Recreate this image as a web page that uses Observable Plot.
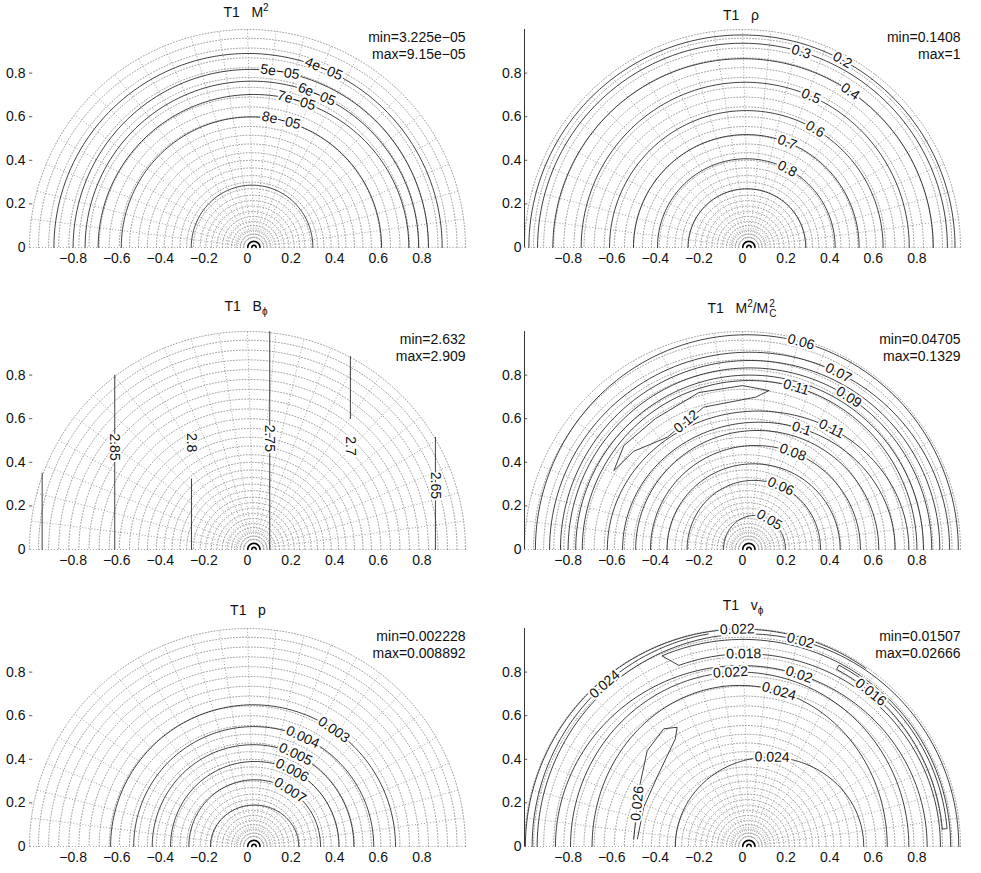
<!DOCTYPE html>
<html><head><meta charset="utf-8">
<script src="https://cdn.jsdelivr.net/npm/d3@7"></script>
<script src="https://cdn.jsdelivr.net/npm/@observablehq/plot@0.6"></script>
<style>
body{margin:0;background:#fff;}
#fig{position:relative;width:981px;height:873px;background:#fff;font-family:"Liberation Sans",Arial,Helvetica,sans-serif;color:#111;overflow:hidden;}
.panel{position:absolute;}
.title{position:absolute;font-size:14px;height:16px;line-height:16px;white-space:nowrap;transform:translate(-50%,-50%);color:#111;}
.title sup,.title sub{font-size:10px;line-height:0;color:#111;}
.stack{display:inline-block;vertical-align:middle;font-size:10px;line-height:10px;margin-left:1px;}
</style></head><body><div id="fig"></div>
<script>
// ---------- axes ----------
const xTicks = [-0.8,-0.6,-0.4,-0.2,0,0.2,0.4,0.6,0.8];
const yTicks = [0,0.2,0.4,0.6,0.8];
// ---------- mesh ----------
const gridRadii = [0.045,0.062,0.08,0.10,0.12,0.142,0.165,0.19,0.215,0.24,0.27,0.30,0.33,0.365,0.40,0.435,0.475,0.515,0.555,0.60,0.645,0.69,0.735,0.78,0.825,0.87,0.915,0.96,1.0];
const gridAngles = [0,7.5,15,22.5,30,37.5,45,52.5,60,67.5,75,82.5,90,97.5,105,112.5,120,127.5,135,142.5,150,157.5,165,172.5,180];
const innerRadii = [0.01,0.028];

// ---------- panel 1 : M^2 ----------
const p1Levels = ["4e−05","5e−05","6e−05","7e−05","8e−05","9e−05"];
const p1Left  = [-0.888,-0.80,-0.745,-0.685,-0.579,-0.258];
const p1Top   = [0.89,0.817,0.763,0.702,0.599,0.286];
const p1Right = [0.893,0.83,0.785,0.74,0.615,0.30];
const p1LabText = ["4e−05","5e−05","6e−05","7e−05","8e−05"];
const p1LabX = [0.343,0.151,0.312,0.22,0.151];
const p1LabY = [0.804,0.82,0.689,0.659,0.567];

// ---------- panel 2 : rho ----------
const p2Levels = ["0.2","0.3","0.4","0.5","0.6","0.7","0.8","0.9"];
const p2Left  = [-0.98,-0.94,-0.87,-0.74,-0.61,-0.50,-0.39,-0.25];
const p2Top   = [0.975,0.937,0.866,0.758,0.628,0.518,0.407,0.269];
const p2Right = [0.975,0.94,0.875,0.765,0.645,0.535,0.425,0.29];
const p2LabText = ["0.3","0.2","0.4","0.5","0.6","0.7","0.8"];
const p2LabX = [0.266,0.457,0.503,0.312,0.335,0.205,0.213];
const p2LabY = [0.888,0.858,0.728,0.689,0.545,0.483,0.376];

// ---------- panel 3 : B_phi ----------
const p3Levels = ["2.9","2.85","2.8","2.75","2.7","2.65"];
const p3X  = [-0.942,-0.609,-0.257,0.102,0.472,0.862];
const p3Y1 = [0,0,0,0,0.60,0];
const p3Y2 = [0.35,0.80,0.324,1.0,0.885,0.515];
const p3LabText = ["2.85","2.8","2.75","2.7","2.65"];
const p3LabX = [-0.609,-0.257,0.102,0.472,0.862];
const p3LabY = [0.47,0.49,0.51,0.475,0.294];

// ---------- panel 4 : M^2/Mc^2 ----------
const p4Levels = ["0.05","0.06","0.07","0.08","0.09","0.1","0.11","0.11","0.1","0.09","0.08","0.07","0.06"];
const p4Left  = [-0.087,-0.254,-0.346,-0.422,-0.49,-0.55,-0.62,-0.735,-0.765,-0.80,-0.835,-0.885,-0.95];
const p4Top   = [0.156,0.317,0.393,0.477,0.546,0.584,0.635,0.775,0.80,0.833,0.867,0.905,0.985];
const p4Right = [0.197,0.358,0.448,0.541,0.625,0.70,0.763,0.80,0.83,0.868,0.905,0.95,0.99];
const p4PeakX = [0.121,0.0,-0.2,-0.4,-0.544,-0.59,-0.50,-0.345,-0.178,0.061,0.121];
const p4PeakY = [0.729,0.752,0.72,0.60,0.477,0.362,0.45,0.515,0.653,0.699,0.729];
const p4LabText = ["0.05","0.06","0.08","0.1","0.11","0.12","0.11","0.09","0.07","0.06"];
const p4LabX = [0.121,0.174,0.228,0.266,0.396,-0.269,0.251,0.488,0.434,0.266];
const p4LabY = [0.133,0.286,0.439,0.538,0.531,0.60,0.76,0.699,0.798,0.944];

// ---------- panel 5 : p ----------
const p5Levels = ["0.003","0.004","0.005","0.006","0.007","0.008"];
const p5Left  = [-0.628,-0.522,-0.437,-0.353,-0.269,-0.17];
const p5Top   = [0.65,0.55,0.467,0.39,0.306,0.19];
const p5Right = [0.679,0.579,0.488,0.42,0.335,0.235];
const p5LabText = ["0.003","0.004","0.005","0.006","0.007"];
const p5LabX = [0.396,0.251,0.212,0.19,0.182];
const p5LabY = [0.535,0.497,0.405,0.321,0.237];

// ---------- panel 6 : v_phi ----------
const p6Levels = ["0.024","0.024","0.022","0.02","0.02","0.024","0.022"];
const p6Left  = [-0.308,-0.69,-0.789,-0.858,-0.942,-0.965,-0.996];
const p6Top   = [0.41,0.739,0.80,0.83,0.975,0.99,0.997];
const p6Right = [0.556,0.664,0.763,0.847,0.992,0.99,0.99];
const p6T0 = [0,0,0,0,0,100,55];
const p6T1 = [180,180,180,180,180,180,180];
// 0.018 wedge (inner edge then outer edge back)
const p6WedgeLeft = [-0.88,-0.95], p6WedgeTop = [0.884,0.95], p6WedgeRight = [0.908,0.955];
const p6WedgeT0 = [0,113], p6WedgeT1 = [110,0];
// 0.016 band
const p6BandLeft = [-0.92,-0.942], p6BandTop = [0.92,0.942], p6BandRight = [0.92,0.942];
const p6BandT0 = [5,62], p6BandT1 = [62,5];
// 0.026 spike
const p6SpikeX = [-0.499,-0.476,-0.437,-0.361,-0.30,-0.308,-0.392,-0.453,-0.482];
const p6SpikeY = [0.035,0.257,0.44,0.54,0.547,0.494,0.318,0.18,0.035];
const p6LabText = ["0.022","0.02","0.018","0.022","0.02","0.024","0.016","0.024","0.024","0.026"];
const p6LabX = [-0.024,0.266,0.006,-0.055,0.258,0.166,0.595,-0.628,0.136,-0.468];
const p6LabY = [0.994,0.945,0.884,0.792,0.784,0.708,0.716,0.739,0.417,0.196];

const minMax = [
  ["min=3.225e−05","max=9.15e−05"],
  ["min=0.1408","max=1"],
  ["min=2.632","max=2.909"],
  ["min=0.04705","max=0.1329"],
  ["min=0.002228","max=0.008892"],
  ["min=0.01507","max=0.02666"]
];

// ---------- geometry helpers ----------
const rad = Math.PI/180;
function arc(left, top, right, t0=0, t1=180, step=2){
  const c=(left+right)/2, a=(right-left)/2;
  const n=Math.max(1,Math.ceil(Math.abs(t1-t0)/step));
  const pts=[];
  for(let i=0;i<=n;i++){const t=(t0+(t1-t0)*i/n)*rad; pts.push([c+a*Math.cos(t), top*Math.sin(t)]);}
  return pts;
}
const meshC = r => 0.03*(1-r);
function ellipseContours(levels,L,T,R,T0,T1){
  return levels.map((lv,i)=>({level:lv, pts:arc(L[i],T[i],R[i],T0?T0[i]:0,T1?T1[i]:180)}));
}
function joinArcs(level,L,T,R,T0,T1,close){
  let pts=[];
  L.forEach((_,i)=>{pts=pts.concat(arc(L[i],T[i],R[i],T0[i],T1[i]));});
  if(close) pts.push(pts[0]);
  return {level, pts};
}
function placeLabels(texts,xs,ys,contours){
  return texts.map((txt,i)=>{
    let best=null;
    for(const c of contours){ if(c.level!==txt) continue;
      for(let k=0;k<c.pts.length-1;k++){
        const [ax,ay]=c.pts[k],[bx,by]=c.pts[k+1];
        const dx=bx-ax, dy=by-ay, L2=dx*dx+dy*dy;
        let u=L2?((xs[i]-ax)*dx+(ys[i]-ay)*dy)/L2:0; u=Math.max(0,Math.min(1,u));
        const px=ax+u*dx, py=ay+u*dy, d=Math.hypot(px-xs[i],py-ys[i]);
        if(!best||d<best.d) best={d,px,py,dx,dy};
      }}
    let ang=Math.atan2(-best.dy,best.dx)/rad;
    if(ang>90) ang-=180; if(ang<=-90) ang+=180;
    const snap=best.d<0.05;
    return {text:txt, x:snap?best.px:xs[i], y:snap?best.py:ys[i], rotate:ang};
  });
}
function rows(contours){
  const out=[]; contours.forEach((c,id)=>c.pts.forEach(p=>out.push({x:p[0],y:p[1],id}))); return out;
}

// mesh data
const meshCircles=[]; gridRadii.forEach((r,id)=>{const c=meshC(r); arc(c-r,r,c+r).forEach(p=>meshCircles.push({x:p[0],y:p[1],id}));});
const innerArcs=[]; innerRadii.forEach((r,id)=>{const c=meshC(r); arc(c-r,r,c+r,0,180,5).forEach(p=>innerArcs.push({x:p[0],y:p[1],id}));});
const r0=gridRadii[0], r1=gridRadii[gridRadii.length-1];
const meshRays=gridAngles.map(a=>({x1:meshC(r0)+r0*Math.cos(a*rad), y1:r0*Math.sin(a*rad), x2:meshC(r1)+r1*Math.cos(a*rad), y2:r1*Math.sin(a*rad)}));

// contours per panel
const c1=ellipseContours(p1Levels,p1Left,p1Top,p1Right);
const c2=ellipseContours(p2Levels,p2Left,p2Top,p2Right);
const c3=p3Levels.map((lv,i)=>({level:lv, pts:[[p3X[i],p3Y1[i]],[p3X[i],p3Y2[i]]]}));
const c4=ellipseContours(p4Levels,p4Left,p4Top,p4Right).concat([{level:"0.12", pts:p4PeakX.map((x,i)=>[x,p4PeakY[i]])}]);
const c5=ellipseContours(p5Levels,p5Left,p5Top,p5Right);
const c6=ellipseContours(p6Levels,p6Left,p6Top,p6Right,p6T0,p6T1).concat([
  joinArcs("0.018",p6WedgeLeft,p6WedgeTop,p6WedgeRight,p6WedgeT0,p6WedgeT1,false),
  joinArcs("0.016",p6BandLeft,p6BandTop,p6BandRight,p6BandT0,p6BandT1,true),
  {level:"0.026", pts:p6SpikeX.map((x,i)=>[x,p6SpikeY[i]])}
]);

const panels=[
  {col:0,row:0,contours:c1,labels:placeLabels(p1LabText,p1LabX,p1LabY,c1),title:"T1&nbsp;&nbsp;&nbsp;M<sup>2</sup>",tx:246,ty:12},
  {col:1,row:0,contours:c2,labels:placeLabels(p2LabText,p2LabX,p2LabY,c2),title:"T1&nbsp;&nbsp;&nbsp;ρ",tx:741,ty:15},
  {col:0,row:1,contours:c3,labels:placeLabels(p3LabText,p3LabX,p3LabY,c3),title:"T1&nbsp;&nbsp;&nbsp;B<sub>ϕ</sub>",tx:246,ty:306},
  {col:1,row:1,contours:c4,labels:placeLabels(p4LabText,p4LabX,p4LabY,c4),title:"T1&nbsp;&nbsp;&nbsp;M<sup>2</sup>/M<span class='stack'>2<br>C</span>",tx:742,ty:307},
  {col:0,row:2,contours:c5,labels:placeLabels(p5LabText,p5LabX,p5LabY,c5),title:"T1&nbsp;&nbsp;&nbsp;p",tx:248,ty:610},
  {col:1,row:2,contours:c6,labels:placeLabels(p6LabText,p6LabX,p6LabY,c6),title:"T1&nbsp;&nbsp;&nbsp;v<sub>ϕ</sub>",tx:743,ty:605}
];

const fig=document.getElementById("fig");
const rowTop=[0,302,599];
const fmtX = d => d===0 ? "0" : d3.format(".1f")(d);
const fmtY = d => d===0 ? "0" : d3.format(".1f")(d);

panels.forEach((p,idx)=>{
  const W = p.col===0?490:491, mL = p.col===0?29:34, mR = p.col===0?25:21;
  const marks=[
    Plot.line(meshCircles,{x:"x",y:"y",z:"id",stroke:"#8a8a8a",strokeWidth:0.8,strokeDasharray:"1 2"}),
    Plot.link(meshRays,{x1:"x1",y1:"y1",x2:"x2",y2:"y2",stroke:"#8a8a8a",strokeWidth:0.8,strokeDasharray:"1 2"}),
    Plot.line(innerArcs,{x:"x",y:"y",z:"id",stroke:"#000",strokeWidth:1.6}),
    Plot.line(rows(p.contours),{x:"x",y:"y",z:"id",stroke:"#111",strokeWidth:0.8}),
    Plot.text(p.labels,{x:"x",y:"y",text:"text",rotate:"rotate",fontSize:14,fill:"#111",stroke:"white",strokeWidth:4}),
    Plot.ruleY(yTicks.filter(v=>v>0),{x1:-1,x2:-0.985,stroke:"#333",strokeWidth:0.8}),
    Plot.axisX(xTicks,{tickSize:0,tickPadding:6,tickFormat:fmtX,fontSize:14,label:null}),
    Plot.axisY(yTicks,{tickSize:0,tickPadding:p.col===0?4:3,tickFormat:fmtY,fontSize:14,label:null}),
    Plot.text([minMax[idx][0]],{text:d=>d,frameAnchor:"top-right",textAnchor:"end",lineAnchor:"middle",dy:8,fontSize:14,fill:"#111"}),
    Plot.text([minMax[idx][1]],{text:d=>d,frameAnchor:"top-right",textAnchor:"end",lineAnchor:"middle",dy:25,fontSize:14,fill:"#111"})
  ];
  if(p.col===1) marks.splice(5,0,Plot.ruleX([-1],{y1:0,y2:1,stroke:"#333",strokeWidth:1}));
  const svg=Plot.plot({
    width:W,height:274,marginLeft:mL,marginRight:mR,marginTop:29,marginBottom:27,
    x:{domain:[-1,1]},y:{domain:[0,1]},
    style:{fontFamily:"'Liberation Sans',Arial,Helvetica,sans-serif",fontSize:"14px",background:"transparent",color:"#111"},
    marks
  });
  const div=document.createElement("div");
  div.className="panel"; div.style.left=(p.col*490)+"px"; div.style.top=rowTop[p.row]+"px";
  div.appendChild(svg); fig.appendChild(div);
  const t=document.createElement("div");
  t.className="title"; t.style.left=p.tx+"px"; t.style.top=p.ty+"px"; t.innerHTML=p.title;
  fig.appendChild(t);
});
</script></body></html>
